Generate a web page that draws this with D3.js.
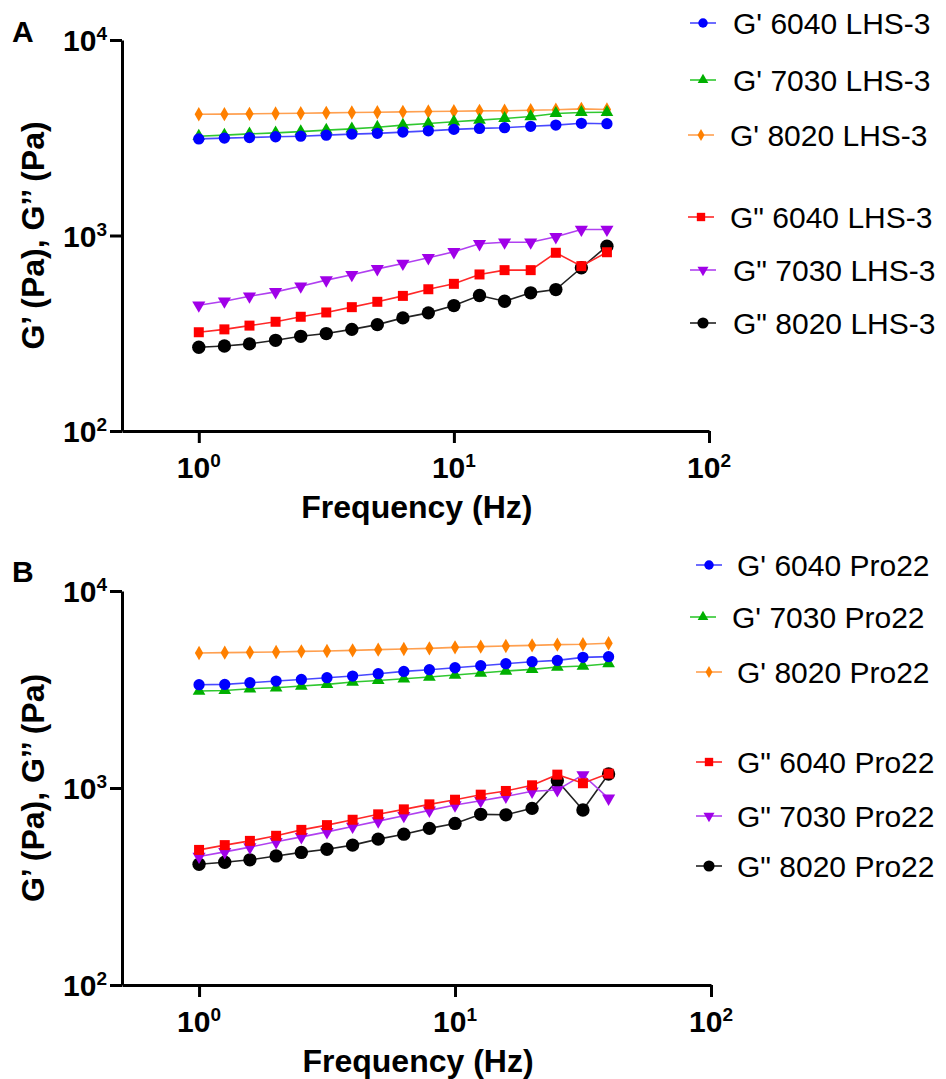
<!DOCTYPE html>
<html>
<head>
<meta charset="utf-8">
<script src="https://cdn.jsdelivr.net/npm/d3@7"></script>
<style>
  body { margin: 0; background: #fff; }
  text { font-family: "Liberation Sans", Arial, sans-serif; }
</style>
</head>
<body>
<svg width="946" height="1079"></svg>
<script>
// frequency sweep (Hz)
var freq = [1, 1.26, 1.58, 2, 2.51, 3.16, 3.98, 5.01, 6.31, 7.94, 10, 12.6, 15.8, 20, 25.1, 31.6, 39.8];

// panel A - LHS-3
var gp6040A  = [3120, 3150, 3170, 3200, 3220, 3260, 3300, 3330, 3380, 3430, 3490, 3530, 3560, 3620, 3670, 3750, 3730];
var gp7030A  = [3220, 3260, 3310, 3350, 3400, 3460, 3510, 3580, 3670, 3740, 3820, 3890, 3970, 4060, 4210, 4260, 4270];
var gp8020A  = [4170, 4175, 4190, 4205, 4220, 4240, 4255, 4270, 4290, 4305, 4320, 4340, 4345, 4375, 4395, 4445, 4410];
var gpp6040A = [320, 331, 346, 362, 384, 404, 430, 458, 491, 531, 566, 632, 665, 665, 816, 697, 821];
var gpp7030A = [440, 461, 489, 515, 550, 591, 630, 675, 719, 769, 825, 907, 924, 924, 985, 1073, 1073];
var gpp8020A = [268, 272, 279, 291, 305, 315, 331, 350, 379, 402, 438, 493, 461, 509, 529, 684, 882];

// panel B - Pro22
var gp6040B  = [3344, 3356, 3423, 3491, 3557, 3629, 3701, 3803, 3907, 3985, 4078, 4175, 4276, 4377, 4444, 4604, 4642];
var gp7030B  = [3106, 3128, 3191, 3228, 3293, 3356, 3451, 3516, 3587, 3659, 3746, 3834, 3926, 3999, 4113, 4162, 4276];
var gp8020B  = [4848, 4864, 4881, 4904, 4938, 4962, 4996, 5038, 5079, 5115, 5176, 5219, 5261, 5299, 5342, 5362, 5425];
var gpp6040B = [485, 513, 539, 572, 613, 648, 690, 735, 779, 826, 872, 925, 966, 1032, 1169, 1057, 1183];
var gpp7030B = [449, 474, 501, 533, 565, 599, 638, 679, 723, 770, 819, 862, 907, 962, 977, 1165, 886];
var gpp8020B = [410, 420, 432, 452, 471, 489, 513, 550, 583, 624, 661, 735, 731, 788, 1089, 773, 1178];

var seriesNames = ["G' 6040", "G' 7030", "G' 8020", 'G" 6040', 'G" 7030', 'G" 8020'];
var xTicks = [1, 10, 100];
var yTicks = [100, 1000, 10000];

// marker styles
var styles = [
    {fill: "#0000ff", line: "#4848ff", shape: d3.symbolCircle, size: 100, rot: 0},
    {fill: "#00b000", line: "#30c830", shape: d3.symbolTriangle, size: 70, rot: 0},
    {fill: "#ff8000", line: "#ffa050", shape: d3.symbolDiamond, size: 60, rot: 0},
    {fill: "#ff0000", line: "#ff2828", shape: d3.symbolSquare, size: 100, rot: 0},
    {fill: "#a000e8", line: "#b040f0", shape: d3.symbolTriangle, size: 75, rot: 180},
    {fill: "#000000", line: "#222222", shape: d3.symbolCircle, size: 140, rot: 0}
];

var svg = d3.select("svg");

var panels = [
    {letter: "A", suffix: "LHS-3", data: [gp6040A, gp7030A, gp8020A, gpp6040A, gpp7030A, gpp8020A],
     top: 40, bottom: 431, left: 122, right: 709, letterY: 42,
     legY: [23, 80, 135, 217, 270, 323],
     legText: [733, 733, 730, 730, 733, 733], legMark: [703, 703, 701, 701, 703, 703]},
    {letter: "B", suffix: "Pro22", data: [gp6040B, gp7030B, gp8020B, gpp6040B, gpp7030B, gpp8020B],
     top: 591, bottom: 985, left: 122, right: 711, letterY: 582,
     legY: [565, 617, 672, 762, 816, 866],
     legText: [737, 732, 737, 737, 737, 737], legMark: [709, 703, 709, 709, 709, 709]}
];

var symbolPath = function(st, scale){
    return d3.symbol().type(st.shape).size(st.size * (scale || 1))();
};

panels.forEach(function(p){
    var g = svg.append("g");

    var x = d3.scaleLog().domain([0.5, 100]).range([p.left, p.right]);
    var y = d3.scaleLog().domain([100, 10000]).range([p.bottom, p.top]);

    // panel letter
    g.append("text")
        .attr("x", 12).attr("y", p.letterY)
        .attr("font-size", 30).attr("font-weight", "bold")
        .text(p.letter);

    // axes
    var xAxis = g.append("g")
        .attr("transform", "translate(0," + p.bottom + ")")
        .call(d3.axisBottom(x).tickValues(xTicks).tickSize(12).tickSizeOuter(0).tickFormat(""));
    var yAxis = g.append("g")
        .attr("transform", "translate(" + p.left + ",0)")
        .call(d3.axisLeft(y).tickValues(yTicks).tickSize(12).tickSizeOuter(0).tickFormat(""));
    [xAxis, yAxis].forEach(function(a){
        a.selectAll("path, line").attr("stroke", "#000").attr("stroke-width", 3);
    });

    // tick labels as 10^n
    xTicks.forEach(function(t){
        var tx = g.append("text")
            .attr("x", x(t)).attr("y", p.bottom + 47)
            .attr("text-anchor", "middle")
            .attr("font-size", 30).attr("font-weight", "bold");
        tx.append("tspan").text("10");
        tx.append("tspan").attr("font-size", 19).attr("dy", -11).text(Math.round(Math.log10(t)));
    });
    yTicks.forEach(function(t){
        var ty = g.append("text")
            .attr("x", p.left - 15).attr("y", y(t) + 11)
            .attr("text-anchor", "end")
            .attr("font-size", 30).attr("font-weight", "bold");
        ty.append("tspan").text("10");
        ty.append("tspan").attr("font-size", 19).attr("dy", -11).text(Math.round(Math.log10(t)));
    });

    // axis titles
    g.append("text")
        .attr("x", (x(1) + x(100)) / 2 - 37).attr("y", p.bottom + 87)
        .attr("text-anchor", "middle")
        .attr("font-size", 32).attr("font-weight", "bold")
        .text("Frequency (Hz)");
    g.append("text")
        .attr("transform", "translate(44," + ((p.top + p.bottom) / 2) + ") rotate(-90)")
        .attr("text-anchor", "middle")
        .attr("font-size", 32).attr("font-weight", "bold")
        .text("G\u2019 (Pa), G\u2019\u2019 (Pa)");

    // series, drawn last-first so G' 6040 sits on top
    var lineMaker = d3.line()
        .x(function(d, i){ return x(freq[i]); })
        .y(function(d){ return y(d); });

    for (var k = p.data.length - 1; k >= 0; k--) {
        var st = styles[k];
        var sg = g.append("g");
        sg.append("path")
            .attr("fill", "none")
            .attr("stroke", st.line)
            .attr("stroke-width", 1.6)
            .attr("d", lineMaker(p.data[k]));
        sg.selectAll("path.mark")
            .data(p.data[k]).enter()
            .append("path")
            .attr("class", "mark")
            .attr("fill", st.fill)
            .attr("transform", function(d, i){
                return "translate(" + x(freq[i]) + "," + y(d) + ") rotate(" + st.rot + ")";
            })
            .attr("d", symbolPath(st));
    }

    // legend
    seriesNames.forEach(function(name, k){
        var st = styles[k];
        var ly = p.legY[k];
        var mx = p.legMark[k];
        g.append("line")
            .attr("x1", mx - 13).attr("x2", mx + 13)
            .attr("y1", ly).attr("y2", ly)
            .attr("stroke", st.line).attr("stroke-width", 1.6);
        g.append("path")
            .attr("fill", st.fill)
            .attr("transform", "translate(" + mx + "," + ly + ") rotate(" + st.rot + ")")
            .attr("d", symbolPath(st, 0.7));
        g.append("text")
            .attr("x", p.legText[k]).attr("y", ly + 11)
            .attr("font-size", 30)
            .text(name + " " + p.suffix);
    });
});
</script>
</body>
</html>
